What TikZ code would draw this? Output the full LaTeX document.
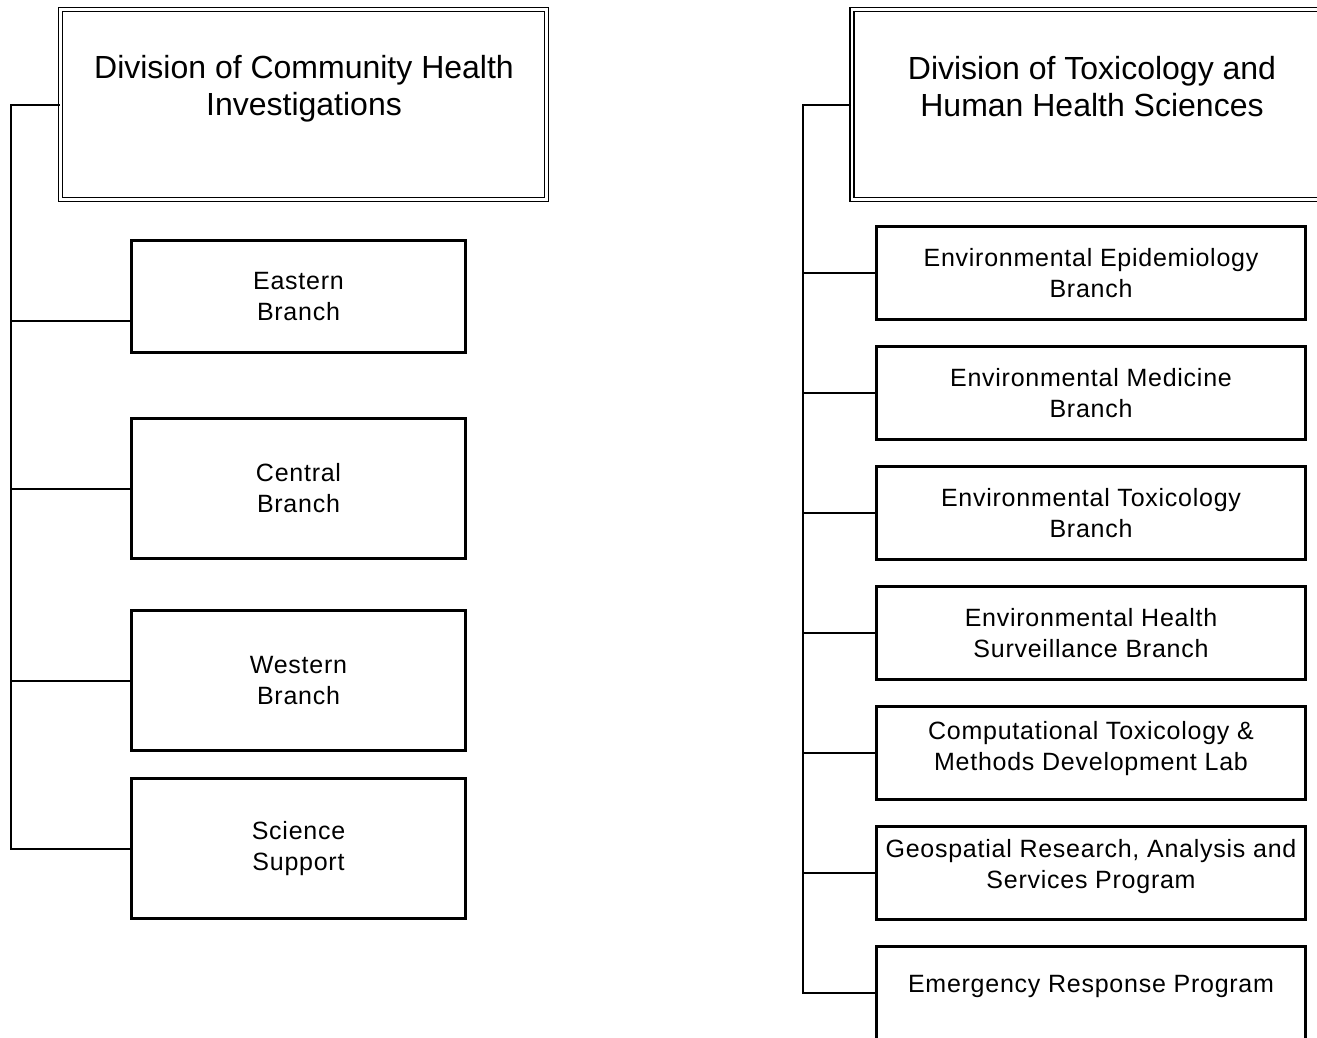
\documentclass[tikz,border=0pt]{standalone}
\usepackage{fontspec}
\setmainfont{Liberation Sans}
\begin{document}
\begin{tikzpicture}[x=1pt,y=-1pt,
	divbox/.style={draw,double,double distance=2.4pt,line width=1.7pt,minimum width=486pt,minimum height=190pt,inner sep=0pt},
	divtext/.style={align=center,inner sep=0pt,font=\fontsize{32}{37}\selectfont},
	leftunit/.style={draw,line width=3pt,minimum width=334pt,minimum height=140pt,align=center,font=\fontsize{25}{31}\selectfont\addfontfeatures{LetterSpace=3}},
	rightunit/.style={draw,line width=3pt,minimum width=429pt,minimum height=93pt,align=center,font=\fontsize{25}{31}\selectfont\addfontfeatures{LetterSpace=3}},
	link/.style={line width=2pt}]
	\path[use as bounding box,clip] (0,0) rectangle (1317,1037);
	% left division
		\node[divbox](dchi) at (303.5,104.5){};
		\node[divtext](dchitext) at (304,89){Division of Community Health\\Investigations};
		\node[leftunit,minimum height=112pt](eastern) at (298.5,296.5){Eastern\\Branch};
		\node[leftunit](central) at (298.5,488.5){Central\\Branch};
		\node[leftunit](western) at (298.5,680.5){Western\\Branch};
		\node[leftunit](science) at (298.5,848.5){Science\\Support};
		\coordinate(spinel) at (11,848.5);
		\draw[link](dchi.west)-|(spinel)--(science.west);
		\draw[link]([yshift=-24.5pt]eastern.west)--(spinel|-0,321);
		\draw[link](central.west)--(spinel|-central.west);
		\draw[link](western.west)--(spinel|-western.west);
	% right division
		\node[divbox](dthhs) at (1095,104.5){};
		\node[divtext](dthhstext) at (1092,86.5){Division of Toxicology and\\Human Health Sciences};
		\node[rightunit](epi) at (1091,273){Environmental Epidemiology\\Branch};
		\node[rightunit](med) at (1091,393){Environmental Medicine\\Branch};
		\node[rightunit](tox) at (1091,513){Environmental Toxicology\\Branch};
		\node[rightunit](surv) at (1091,633){Environmental Health\\Surveillance Branch};
		\node[rightunit,text depth=14pt](comp) at (1091,753){Computational Toxicology \&\\Methods Development Lab};
		\node[rightunit,text depth=18pt](geo) at (1091,873){Geospatial Research, Analysis and\\Services Program};
		\node[rightunit,text depth=18pt](emer) at (1091,993){Emergency Response Program};
		\coordinate(spiner) at (803,993);
		\draw[link](dthhs.west)-|(spiner)--(emer.west);
		\draw[link](epi.west)--(spiner|-epi.west);
		\draw[link](med.west)--(spiner|-med.west);
		\draw[link](tox.west)--(spiner|-tox.west);
		\draw[link](surv.west)--(spiner|-surv.west);
		\draw[link](comp.west)--(spiner|-comp.west);
		\draw[link](geo.west)--(spiner|-geo.west);
\end{tikzpicture}
\end{document}
